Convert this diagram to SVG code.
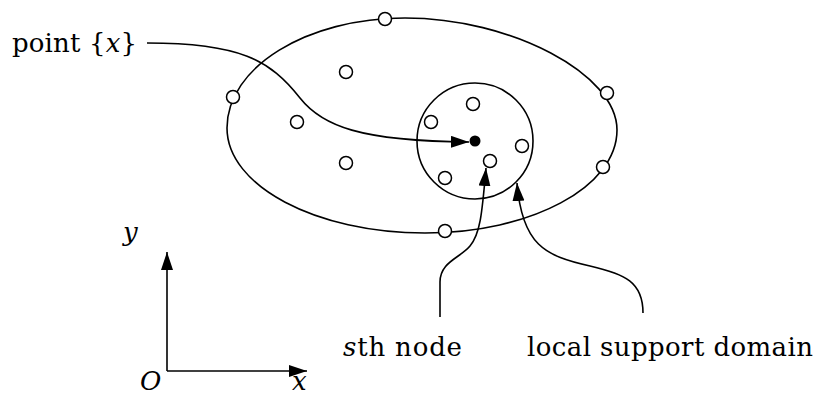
<svg xmlns="http://www.w3.org/2000/svg" width="817" height="397" viewBox="0 0 817 397" font-family="DejaVu Serif">
<defs>
<marker id="ah" markerUnits="userSpaceOnUse" markerWidth="20" markerHeight="14" refX="18" refY="6" orient="auto">
<path d="M0,0 L18,6 L0,12 Z" fill="#000"/>
</marker>
</defs>
<rect width="817" height="397" fill="#fff"/>
<g id="domain" fill="none" stroke="#000" stroke-width="1.6">
<path d="M227,128 C227,67 307,18 405,18 C511,18 617,74 617,130 C617,187 531,233 425,233 C316,233 227,186 227,128 Z"/>
</g>
<g id="support" fill="none" stroke="#000" stroke-width="1.6">
<circle cx="475" cy="141" r="58"/>
</g>
<g id="connectors" fill="none" stroke="#000" stroke-width="1.6">
<path d="M147,43 C240,43 270,60 300,98 C322,126 360,141 469,142" marker-end="url(#ah)"/>
<path d="M440,317 L440,282 C440,262 460,258 470,246 C480,234 482,215 486,168" marker-end="url(#ah)"/>
<path d="M643,313 C643,282 625,274 590,266 C545,256 522,245 517,183" marker-end="url(#ah)"/>
<path d="M167,371 L167,252" marker-end="url(#ah)"/>
<path d="M167,371 L307,371" marker-end="url(#ah)"/>
</g>
<g id="nodes" fill="#fff" stroke="#000" stroke-width="1.5">
<circle cx="385" cy="19" r="6.5"/>
<circle cx="233" cy="97" r="6.5"/>
<circle cx="346" cy="72" r="6.5"/>
<circle cx="297" cy="122" r="6.5"/>
<circle cx="346" cy="163" r="6.5"/>
<circle cx="607" cy="93" r="6.5"/>
<circle cx="603" cy="167" r="6.5"/>
<circle cx="445" cy="231" r="6.5"/>
<circle cx="473" cy="104" r="6.5"/>
<circle cx="431" cy="122" r="6.5"/>
<circle cx="522" cy="146" r="6.5"/>
<circle cx="490" cy="161" r="6.5"/>
<circle cx="445" cy="178" r="6.5"/>
</g>
<g id="point">
<circle cx="475" cy="141" r="5.5" fill="#000"/>
</g>
<text x="12" y="52" font-size="26" font-family="DejaVu Serif" textLength="125" lengthAdjust="spacing">point {<tspan font-style="italic">x</tspan>}</text>
<text x="343" y="356" font-size="26" font-family="DejaVu Serif" textLength="119" lengthAdjust="spacing"><tspan font-style="italic">s</tspan>th node</text>
<text x="527" y="356" font-size="26" font-family="DejaVu Serif" textLength="286" lengthAdjust="spacing">local support domain</text>
<text x="123" y="241" font-size="26" font-family="DejaVu Serif" font-style="italic">y</text>
<text x="140" y="390" font-size="26" font-family="DejaVu Serif" font-style="italic">O</text>
<text x="292" y="390" font-size="26" font-family="DejaVu Serif" font-style="italic">x</text>
</svg>
